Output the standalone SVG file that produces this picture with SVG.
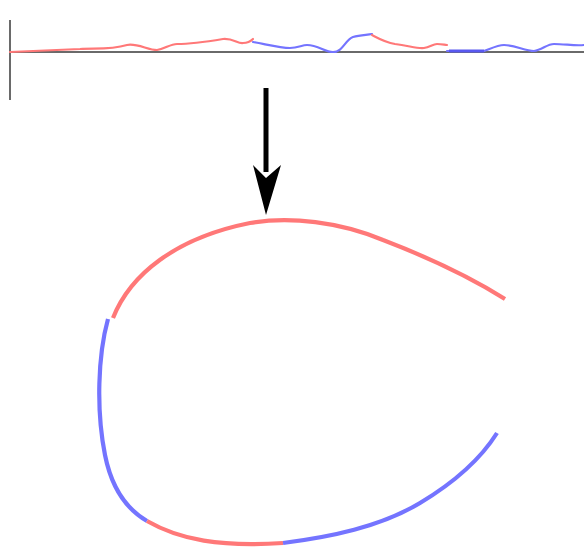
<svg xmlns="http://www.w3.org/2000/svg" width="584" height="551" viewBox="0 0 584 551">
<style>
.axis{stroke:#6a6a6a;stroke-width:2;fill:none}
.tr{fill:none;stroke-width:2.2;stroke-linejoin:round;stroke-linecap:round}
.cv{fill:none;stroke-width:4.2;stroke-linecap:butt}
.r{stroke:#ff7878}
.b{stroke:#7474ff}
</style>
<rect width="584" height="551" fill="#fff"/>
<g id="signal">
<line class="axis" x1="10" y1="20" x2="10" y2="100"/>
<line class="axis" x1="10" y1="52" x2="584" y2="52"/>
<path class="tr r" d="M10,52 C30,51 60,50 80,49 C95,48 110,50 127,45 C137,43 148,50 157,50 C165,49 170,44 177,44 C190,44 205,42 223,39 C233,38 238,44 243,43 C248,43 251,41 253,39"/>
<path class="tr b" d="M253,42 C265,44 280,48 290,48 C298,48 302,45 307,45 C318,45 325,52 333,52 C343,52 345,40 353,37 C360,35 366,35 372,34"/>
<path class="tr r" d="M372,35 C378,38 384,42 395,44 C410,46 418,49 424,48 C430,47 433,44 437,44 C442,44 445,45 447,45"/>
<path class="tr b" d="M447,51 L484,51 C492,48 498,45 504,45 C515,45 525,51 534,51 C542,50 547,44 554,44 C565,44 575,46 584,45"/>
<path d="M449,51 L484,51" stroke="#5858f0" stroke-width="3" fill="none"/>
</g>
<g id="arrow">
<line x1="266" y1="88" x2="266" y2="172" stroke="#000" stroke-width="5"/>
<polygon points="266,215 253,165 266,178 281,165" fill="#000"/>
</g>
<g id="curve">
<path class="cv r" d="M113,318 C130,275 175,238 250,223 C290,216 340,222 383,240 C430,258 470,277 505,299"/>
<path class="cv b" d="M108,319 C98,355 96,410 105,455 C112,490 128,510 147,521"/>
<path class="cv r" d="M147,521 C180,540 220,547 283,543"/>
<path class="cv b" d="M283,543 C330,537 380,527 420,503 C455,482 480,460 497,433"/>
</g>
</svg>
